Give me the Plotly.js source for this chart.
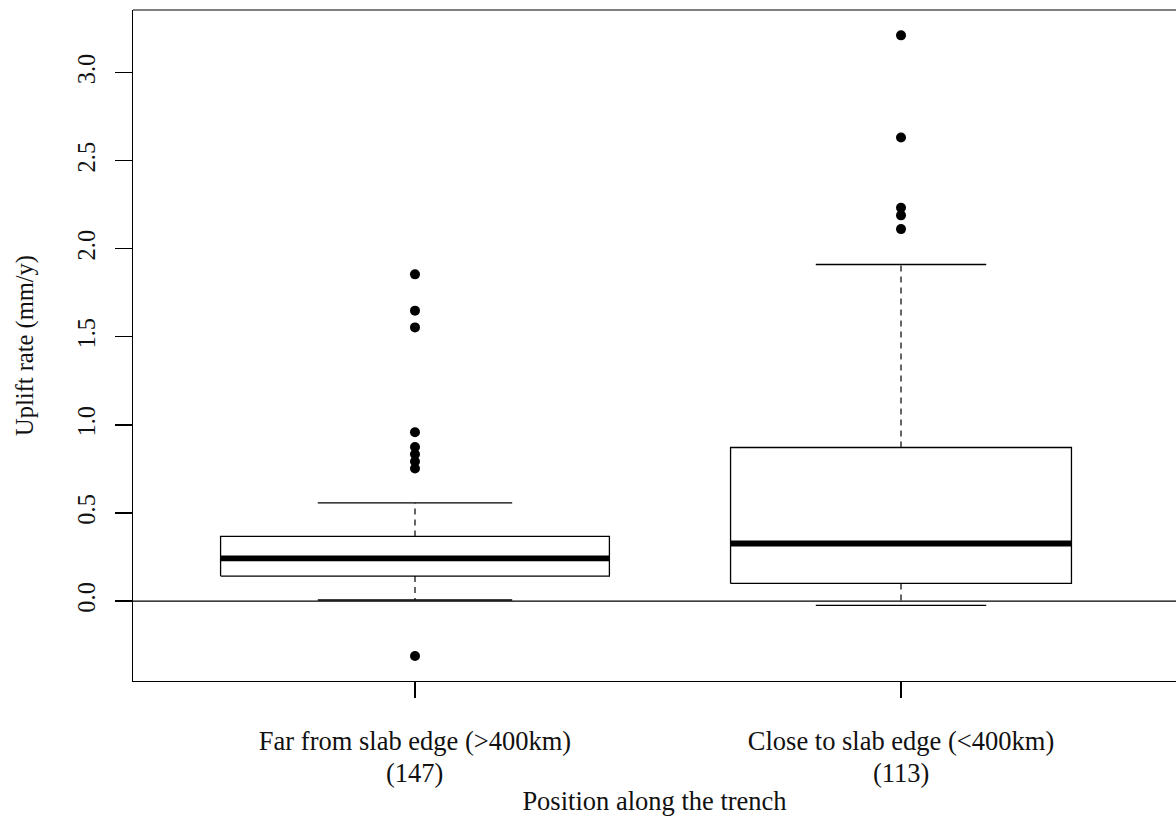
<!DOCTYPE html>
<html>
<head>
<meta charset="utf-8">
<script src="https://cdn.plot.ly/plotly-3.0.1.min.js"></script>
<style>
html,body{margin:0;padding:0;background:#fff;}
#chart{width:1176px;height:816px;}
</style>
</head>
<body>
<div id="chart"></div>
<script>
// ---- data ----
var categories = ["Far from slab edge (>400km)", "Close to slab edge (<400km)"];
var counts = [147, 113];
var q1 = [0.142, 0.100];
var medians = [0.242, 0.327];
var q3 = [0.367, 0.872];
var lowerWhisker = [0.006, -0.024];
var upperWhisker = [0.558, 1.911];
var outliersFar = [-0.312, 0.753, 0.792, 0.834, 0.875, 0.959, 1.554, 1.649, 1.855];
var outliersClose = [2.112, 2.190, 2.233, 2.632, 3.212];
var yTicks = [0, 0.5, 1, 1.5, 2, 2.5, 3];

var outliers = [outliersFar, outliersClose];
var positions = [1, 2];
var boxwex = 0.8;
var maxN = Math.max.apply(null, counts);

var traces = [];
var black = "#000000";
for (var i = 0; i < categories.length; i++) {
  var c = positions[i];
  var w = boxwex * Math.sqrt(counts[i] / maxN);
  var L = c - w / 2, R = c + w / 2;
  // whiskers (dashed)
  traces.push({type: "scatter", mode: "lines", x: [c, c], y: [q3[i], upperWhisker[i]],
    line: {color: black, width: 1.2, dash: "6px,5px"}, hoverinfo: "skip", showlegend: false});
  traces.push({type: "scatter", mode: "lines", x: [c, c], y: [q1[i], lowerWhisker[i]],
    line: {color: black, width: 1.2, dash: "6px,5px"}, hoverinfo: "skip", showlegend: false});
  // staples
  traces.push({type: "scatter", mode: "lines", x: [c - w / 4, c + w / 4], y: [upperWhisker[i], upperWhisker[i]],
    line: {color: black, width: 1.3}, hoverinfo: "skip", showlegend: false});
  traces.push({type: "scatter", mode: "lines", x: [c - w / 4, c + w / 4], y: [lowerWhisker[i], lowerWhisker[i]],
    line: {color: black, width: 1.3}, hoverinfo: "skip", showlegend: false});
  // box
  traces.push({type: "scatter", mode: "lines", x: [L, R, R, L, L], y: [q1[i], q1[i], q3[i], q3[i], q1[i]],
    fill: "toself", fillcolor: "#ffffff", line: {color: black, width: 1.3}, hoverinfo: "skip", showlegend: false});
  // median
  traces.push({type: "scatter", mode: "lines", x: [L, R], y: [medians[i], medians[i]],
    line: {color: black, width: 5.8}, hoverinfo: "skip", showlegend: false});
  // outliers
  traces.push({type: "scatter", mode: "markers", x: outliers[i].map(function () { return c; }), y: outliers[i],
    marker: {color: black, size: 10}, hoverinfo: "y", showlegend: false});
}

var serif = "Liberation Serif, Times New Roman, serif";
var annotations = [];
for (var j = 0; j < counts.length; j++) {
  annotations.push({x: positions[j], y: 0, xref: "x", yref: "paper", yshift: -75,
    text: "(" + counts[j] + ")", showarrow: false, yanchor: "top",
    font: {family: serif, size: 26.5, color: "#111"}});
}

var layout = {
  width: 1176, height: 816,
  margin: {l: 133, r: 0, t: 10, b: 135},
  paper_bgcolor: "#ffffff", plot_bgcolor: "#ffffff",
  showlegend: false,
  xaxis: {
    range: [0.4198, 2.5658], tickmode: "array", tickvals: positions, ticktext: categories,
    showgrid: false, zeroline: false, showline: true, linecolor: black, linewidth: 1.2,
    ticks: "outside", ticklen: 16, tickwidth: 1.2, tickcolor: black,
    ticklabelstandoff: 20,
    tickfont: {family: serif, size: 26.5, color: "#111"},
    title: {text: "Position along the trench", font: {family: serif, size: 26.5, color: "#111"}, standoff: 36}
  },
  yaxis: {
    range: [-0.4538, 3.356], tickmode: "array", tickvals: yTicks,
    ticktext: yTicks.map(function (v) { return v.toFixed(1); }),
    tickangle: -90,
    showgrid: false, zeroline: false, showline: true, linecolor: black, linewidth: 1.2,
    ticks: "outside", ticklen: 17, tickwidth: 1.2, tickcolor: black,
    ticklabelstandoff: 10,
    tickfont: {family: serif, size: 24.5, color: "#111"},
    title: {text: "Uplift rate (mm/y)", font: {family: serif, size: 24.5, color: "#111"}, standoff: 32}
  },
  shapes: [
    {type: "line", xref: "paper", yref: "y", x0: 0, x1: 1, y0: 0, y1: 0, line: {color: black, width: 1.2}, layer: "above"},
    {type: "line", xref: "paper", yref: "paper", x0: 0, x1: 1, y0: 1, y1: 1, line: {color: black, width: 1.2}}
  ],
  annotations: annotations
};

Plotly.newPlot("chart", traces, layout, {displayModeBar: false, staticPlot: true});
</script>
</body>
</html>
